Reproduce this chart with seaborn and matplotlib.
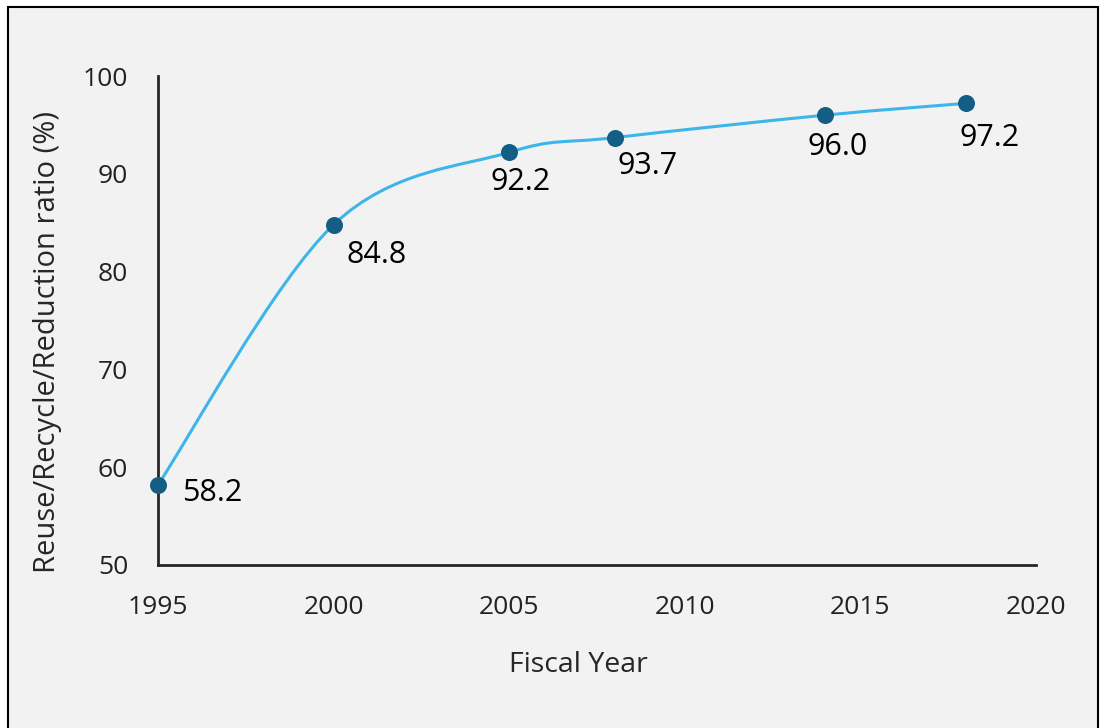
import numpy as np
import pandas as pd
import seaborn as sns
import matplotlib
matplotlib.use("Agg")
import matplotlib.pyplot as plt
from matplotlib.path import Path
from matplotlib.patches import PathPatch, Rectangle

years = [1995, 2000, 2005, 2008, 2014, 2018]
ratios = [58.2, 84.8, 92.2, 93.7, 96.0, 97.2]
labels = ["58.2", "84.8", "92.2", "93.7", "96.0", "97.2"]
x_ticks = [1995, 2000, 2005, 2010, 2015, 2020]
y_ticks = [50, 60, 70, 80, 90, 100]
x_title = "Fiscal Year"
y_title = "Reuse/Recycle/Reduction ratio (%)"

# label offsets in points (dx, dy of the text centre) relative to marker
label_offsets = [(39, -4), (31, -20), (8, -19.5), (24, -18), (9, -21), (17, -23)]

sns.set_theme(style="white")
plt.rcParams['font.family'] = ['Open Sans', 'DejaVu Sans']

df = pd.DataFrame({"year": years, "ratio": ratios})

fig = plt.figure(figsize=(11.01, 7.28), dpi=100, facecolor="white")
fig.patches.append(Rectangle((8/1101, -0.01), (1098-8)/1101, 1 - 7/728 + 0.01,
                             transform=fig.transFigure, facecolor="#f2f2f2",
                             edgecolor="black", linewidth=1.5, zorder=-10))
ax = fig.add_axes([158/1101, 1-565/728, (1036-158)/1101, (565-76)/728])
ax.set_facecolor("none")

# Smooth curve (Excel-style Catmull-Rom Bezier) built from the data points
P = np.column_stack([years, ratios]).astype(float)
n = len(P)
verts = [tuple(P[0])]
codes = [Path.MOVETO]
for i in range(n - 1):
    p0 = P[i - 1] if i > 0 else P[i]
    p1 = P[i]
    p2 = P[i + 1]
    p3 = P[i + 2] if i + 2 < n else P[i + 1]
    c1 = p1 + (p2 - p0) / 6.0
    c2 = p2 - (p3 - p1) / 6.0
    verts += [tuple(c1), tuple(c2), tuple(p2)]
    codes += [Path.CURVE4] * 3
ax.add_patch(PathPatch(Path(verts, codes), facecolor="none", edgecolor="#3db5ea",
                       linewidth=2.2, zorder=2, transform=ax.transData,
                       clip_on=False))

sns.scatterplot(data=df, x="year", y="ratio", ax=ax, s=150, color="#145e85",
                edgecolor="#145e85", linewidth=0, zorder=3, legend=False,
                clip_on=False)

label_fs = 22
for xv, yv, lab, off in zip(years, ratios, labels, label_offsets):
    ax.annotate(lab, (xv, yv), xytext=(off[0], off[1] - 0.357 * label_fs),
                textcoords="offset points", ha="center", va="baseline",
                fontsize=label_fs, color="black")

ax.set_xlim(1995, 2020)
ax.set_ylim(50, 100)
ax.set_xticks(x_ticks)
ax.set_yticks(y_ticks)
ax.tick_params(axis="both", labelsize=19, colors="#222222", length=0)
ax.tick_params(axis="x", pad=21.5)
ax.tick_params(axis="y", pad=21.5)
for s in ["top", "right"]:
    ax.spines[s].set_visible(False)
for s in ["left", "bottom"]:
    ax.spines[s].set_color("#262626")
    ax.spines[s].set_linewidth(2)
ax.set_xlabel(x_title, fontsize=20.5, color="#262626")
ax.set_ylabel(y_title, fontsize=21, color="#262626")
ax.xaxis.set_label_coords((578 - 158) / 878, (565 - 665) / 489)
ax.xaxis.label.set_va("center")
ax.yaxis.set_label_coords((48 - 158) / 878, (565 - 342) / 489)
ax.yaxis.label.set_va("center")
ax.grid(False)

fig.savefig("out.png", dpi=100, facecolor="white")
